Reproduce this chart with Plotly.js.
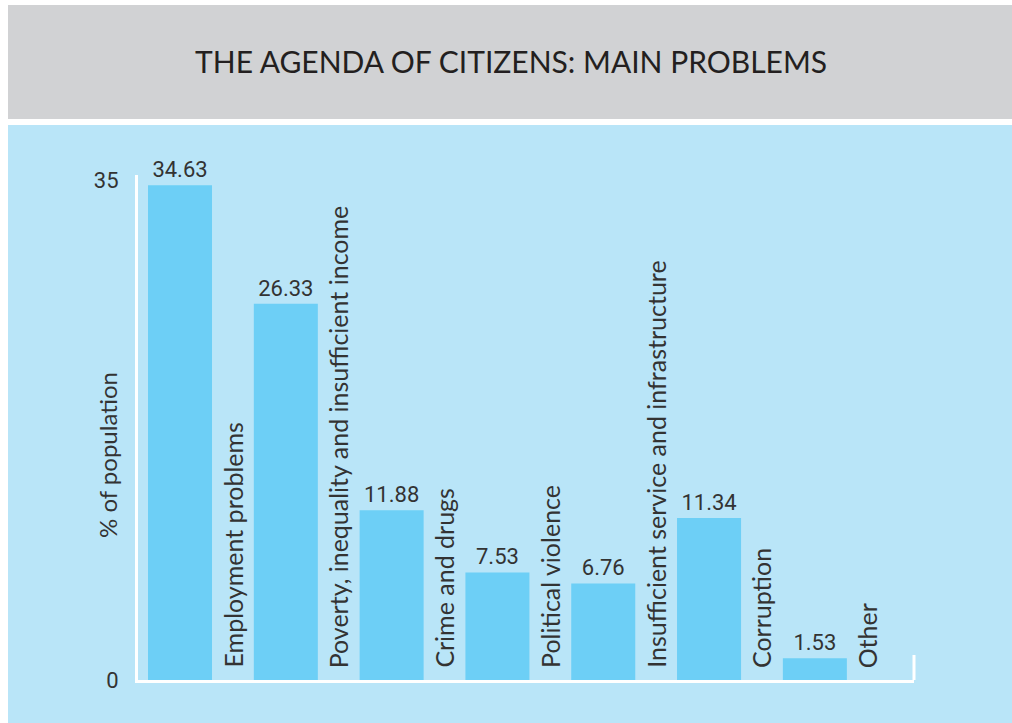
<!DOCTYPE html>
<html>
<head>
<meta charset="utf-8">
<script src="https://cdn.plot.ly/plotly-3.0.1.min.js"></script>
<style>
html,body{margin:0;padding:0;background:#fff;}
#chart{width:1012px;height:723px;}
</style>
</head>
<body>
<div id="chart"></div>
<script>
var categories = [
  "Employment problems",
  "Poverty, inequality and insufficient income",
  "Crime and drugs",
  "Political violence",
  "Insufficient service and infrastructure",
  "Corruption",
  "Other"
];
var values = [34.63, 26.33, 11.88, 7.53, 6.76, 11.34, 1.53];
var yTickVals = [0, 35];
var yTickText = ["0", "35"];
var chartTitle = "THE AGENDA OF CITIZENS: MAIN PROBLEMS";
var yTitle = "% of population";

var textColor = "#333333";
var numFont = "Roboto, sans-serif";
var labelFont = "Lato, 'Open Sans', sans-serif";

var L = 138, R = 98, T = 175, B = 43;
var W = 1012, H = 723;
var pw = W - L - R, ph = H - T - B;
function px(x){ return (x - L) / pw; }
function py(y){ return (H - B - y) / ph; }

var trace = {
  type: "bar",
  x: categories,
  y: values,
  marker: {color: "#6dcff6", line: {width: 0}},
  width: 0.605,
  text: values.map(function(v){ return v.toFixed(2); }),
  textposition: "outside",
  textfont: {family: numFont, size: 22, color: textColor},
  cliponaxis: false,
  hoverinfo: "skip"
};

var annotations = categories.map(function(c){
  return {
    x: c, y: 0, xref: "x", yref: "y",
    text: c, textangle: -90, showarrow: false,
    xanchor: "center", yanchor: "bottom",
    xshift: 52, yshift: 10,
    font: {family: labelFont, size: 25, color: textColor}
  };
});
annotations.push({
  xref: "paper", yref: "paper", x: px(107), y: py(455),
  text: yTitle, textangle: -90, showarrow: false,
  xanchor: "center", yanchor: "middle",
  font: {family: labelFont, size: 24, color: textColor}
});

var layout = {
  width: W, height: H,
  margin: {l: L, r: R, t: T, b: B, pad: 0},
  paper_bgcolor: "#ffffff",
  plot_bgcolor: "rgba(0,0,0,0)",
  showlegend: false,
  title: {
    text: chartTitle,
    x: 0.505, xref: "container", xanchor: "center",
    y: 1 - 62 / H, yref: "container", yanchor: "middle",
    font: {family: "Lato, sans-serif", size: 30, color: "#231f20"}
  },
  xaxis: {
    type: "category",
    range: [-0.397, 6.937],
    showticklabels: false,
    ticks: "",
    showgrid: false,
    zeroline: false,
    showline: true, linecolor: "#ffffff", linewidth: 3,
    fixedrange: true
  },
  yaxis: {
    range: [0, 35.35],
    tickvals: yTickVals,
    ticktext: yTickText,
    ticks: "",
    ticklabelstandoff: 12,
    tickfont: {family: numFont, size: 22, color: textColor},
    showgrid: false,
    zeroline: false,
    showline: true, linecolor: "#ffffff", linewidth: 3,
    fixedrange: true
  },
  annotations: annotations,
  shapes: [
    {type: "rect", xref: "paper", yref: "paper", layer: "below",
     x0: px(8), x1: px(1012), y0: py(119), y1: py(5),
     fillcolor: "#d1d2d4", line: {width: 0}},
    {type: "rect", xref: "paper", yref: "paper", layer: "below",
     x0: px(8), x1: px(1012), y0: py(723), y1: py(125),
     fillcolor: "#b9e5f8", line: {width: 0}},
    {type: "line", xref: "paper", yref: "paper",
     x0: 1, x1: 1, y0: 0, y1: py(655),
     line: {color: "#ffffff", width: 3}}
  ]
};

Plotly.newPlot("chart", [trace], layout, {displayModeBar: false, staticPlot: true});
</script>
</body>
</html>
